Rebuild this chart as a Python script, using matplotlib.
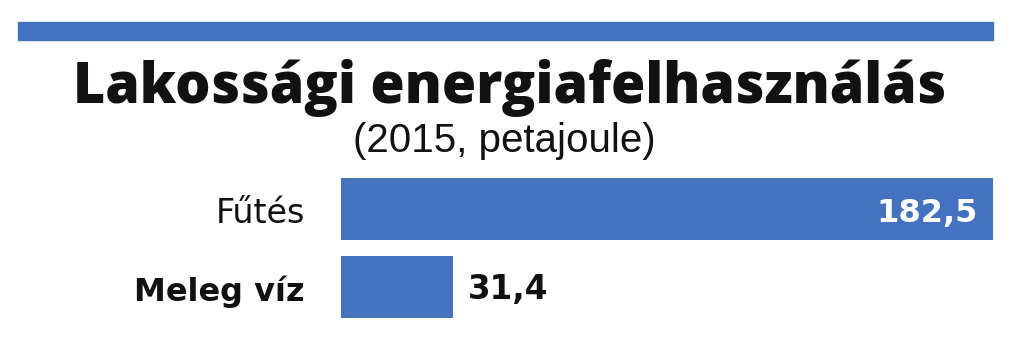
import matplotlib
matplotlib.use("Agg")
import matplotlib.pyplot as plt
from matplotlib.patches import Rectangle

categories = ["Fűtés", "Meleg víz"]
values = [182.5, 31.4]
value_labels = ["182,5", "31,4"]
title = "Lakossági energiafelhasználás"
subtitle = "(2015, petajoule)"

BLUE = "#4472c0"
INK = "#111111"
W, H = 1024, 351
fig = plt.figure(figsize=(W / 100, H / 100), dpi=100)
fig.patch.set_facecolor("white")

def fx(x):
    return x / W

def fy(y):
    return 1 - y / H

# top band
fig.patches.append(Rectangle((fx(18), fy(40)), fx(993) - fx(18), fy(22) - fy(40),
                             transform=fig.transFigure, color=BLUE, zorder=1))

fig.text(fx(510), fy(103), title, ha="center", va="baseline", fontsize=40,
         fontweight=800, family=["Open Sans", "DejaVu Sans"], color=INK)
fig.text(fx(504), fy(152), subtitle, ha="center", va="baseline", fontsize=29,
         family=["Liberation Sans", "DejaVu Sans"], color=INK)

ax = fig.add_axes([fx(341), fy(325.25), fx(993) - fx(341), fy(170.25) - fy(325.25)])
ypos = list(range(len(categories)))
ax.barh(ypos, values, height=0.8, color=BLUE)
ax.set_xlim(0, values[0])
ax.set_ylim(len(categories) - 0.5, -0.5)
ax.axis("off")

for i, (cat, v, lab) in enumerate(zip(categories, values, value_labels)):
    weight = "normal" if i == 0 else "bold"
    size = 24 if i == 0 else 23
    ax.annotate(cat, (0, i), xytext=(-36, -14), textcoords="offset pixels",
                ha="right", va="baseline", fontsize=size, fontweight=weight,
                family=["DejaVu Sans"], color=INK)
    if v > values[0] * 0.5:
        ax.annotate(lab, (v, i), xytext=(-15, -13), textcoords="offset pixels",
                    ha="right", va="baseline", fontsize=23, fontweight="bold",
                    family=["DejaVu Sans"], color="white")
    else:
        ax.annotate(lab, (v, i), xytext=(15, -13), textcoords="offset pixels",
                    ha="left", va="baseline", fontsize=23.5, fontweight="bold",
                    family=["DejaVu Sans"], color=INK)

fig.savefig("out.png", dpi=100, facecolor="white")
